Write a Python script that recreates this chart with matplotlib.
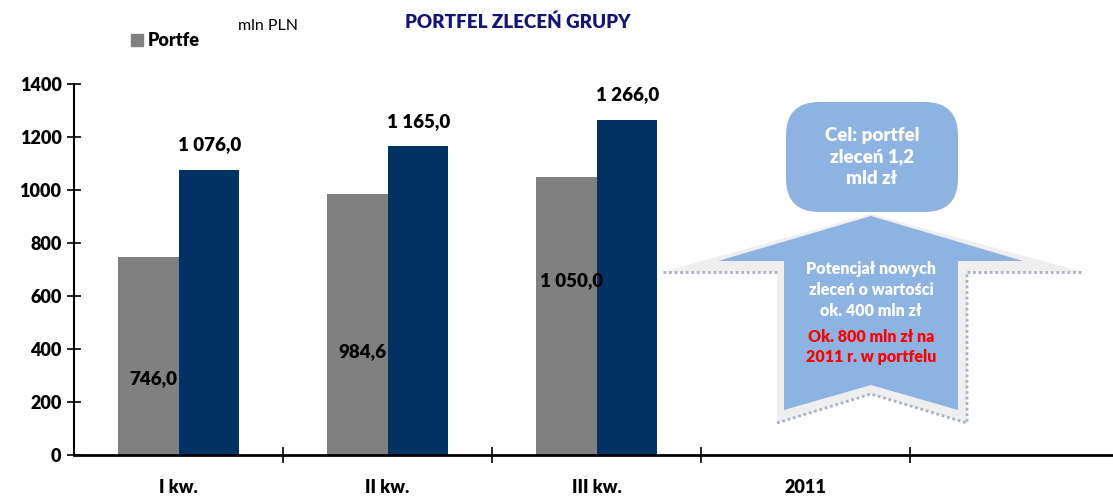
import matplotlib.pyplot as plt
from matplotlib.patches import Polygon, FancyBboxPatch

# dane
kategorie = ["I kw.", "II kw.", "III kw.", "2011", ""]
portfel_grey = [746.0, 984.6, 1050.0]
portfel_navy = [1076.0, 1165.0, 1266.0]
etykiety_grey = ["746,0", "984,6", "1 050,0"]
etykiety_navy = ["1 076,0", "1 165,0", "1 266,0"]
# wysokosc etykiet szarych slupkow (jak w oryginale, nie na szczycie)
etykiety_grey_y = [290, 390, 660]

GREY = "#808080"
NAVY = "#003263"
BLUE = "#8db3e2"
BOLD = 'heavy'

plt.rcParams['font.family'] = ['Lato', 'DejaVu Sans']

W, H = 1113, 497
fig = plt.figure(figsize=(W / 100, H / 100), dpi=100)
ax = fig.add_axes([74 / W, 1 - 455 / H, 1045 / W, 371 / H])

x = range(len(portfel_grey))
bw = 0.29
ax.bar([i - bw / 2 for i in x], portfel_grey, width=bw, color=GREY, zorder=2)
ax.bar([i + bw / 2 for i in x], portfel_navy, width=bw, color=NAVY, zorder=2)

for i in x:
    ax.text(i - 0.12, etykiety_grey_y[i], etykiety_grey[i], ha='center', va='center',
            fontsize=13.5, fontweight=BOLD, color='black')
    ax.text(i + 0.15, portfel_navy[i] + 95, etykiety_navy[i], ha='center', va='center',
            fontsize=13.5, fontweight=BOLD, color='black')

ax.set_xlim(-0.5, len(kategorie) - 0.5)
ax.set_ylim(0, 1400)
ax.set_yticks(range(0, 1401, 200))
ax.set_xticks([i + 0.5 for i in range(len(kategorie) - 1)])
ax.set_xticklabels([])
ax.set_xticks(range(len(kategorie)), minor=True)
ax.set_xticklabels(kategorie, minor=True)
ax.tick_params(axis='x', which='minor', length=0, pad=17, labelsize=13)
ax.tick_params(axis='x', which='major', direction='inout', length=12, width=1.2)
ax.tick_params(axis='y', direction='inout', length=10, width=1.2, labelsize=13, pad=4)
for lab in ax.get_xticklabels(minor=True) + ax.get_yticklabels():
    lab.set_fontweight(BOLD)
ax.spines['top'].set_visible(False)
ax.spines['right'].set_visible(False)
ax.spines['left'].set_linewidth(1.5)
ax.spines['bottom'].set_linewidth(2)

# legenda i tytul
fig.patches.append(plt.Rectangle((131 / W, 1 - 46 / H), 12 / W, 12 / H, color=GREY,
                                 transform=fig.transFigure))
fig.text(148 / W, 1 - 41 / H, "Portfe", fontsize=13, fontweight=BOLD, va='center')
fig.text(238 / W, 1 - 26 / H, "mln PLN", fontsize=11.5, va='center')
fig.text(518 / W, 1 - 22 / H, "PORTFEL ZLECEŃ GRUPY", fontsize=13.5, fontweight=BOLD,
         color='#141478', ha='center', va='center')


def px(pts):
    return [(a / W, 1 - b / H) for a, b in pts]


# strzalka w gore
outer = [(871, 214), (1083, 272), (967, 272), (967, 423), (871, 394),
         (777, 423), (777, 272), (663, 272)]
fig.patches.append(Polygon(px(outer), closed=True, facecolor='#efefef', edgecolor='none',
                           transform=fig.transFigure, zorder=3))
edge = dict(color='#a8b1bf', lw=2.0, ls=(0, (1, 1)), transform=fig.transFigure, zorder=4)
fig.add_artist(plt.Line2D([663 / W, 777 / W], [1 - 272 / H, 1 - 272 / H], **edge))
fig.add_artist(plt.Line2D([967 / W, 1083 / W], [1 - 272 / H, 1 - 272 / H], **edge))
fig.add_artist(plt.Line2D([777 / W, 871 / W, 967 / W, 967 / W],
                          [1 - 423 / H, 1 - 394 / H, 1 - 423 / H, 1 - 272 / H], **edge))
inner = [(871, 216), (1023, 261), (958, 261), (958, 410), (871, 385),
         (784, 410), (784, 261), (718, 261)]
fig.patches.append(Polygon(px(inner), closed=True, facecolor=BLUE, edgecolor='none',
                           transform=fig.transFigure, zorder=5))

box = FancyBboxPatch((786 / W, 1 - 212 / H), 172 / W, 110 / H,
                     boxstyle="round,pad=0,rounding_size=0.03",
                     facecolor=BLUE, edgecolor='none', transform=fig.transFigure,
                     mutation_aspect=W / H, zorder=5)
fig.patches.append(box)

fig.text(872 / W, 1 - 157 / H, "Cel: portfel\nzleceń 1,2\nmld zł", color='white',
         fontsize=13.5, fontweight=BOLD, ha='center', va='center', linespacing=1.35,
         zorder=6)
fig.text(871 / W, 1 - 290 / H, "Potencjał nowych\nzleceń o wartości\nok. 400 mln zł",
         color='white', fontsize=11.5, fontweight=BOLD, ha='center', va='center',
         linespacing=1.38, zorder=6)
fig.text(871 / W, 1 - 347 / H, "Ok. 800 mln zł na\n2011 r. w portfelu", color='#ff0000',
         fontsize=11.5, fontweight=BOLD, ha='center', va='center', linespacing=1.32,
         zorder=6)

fig.savefig("out.png", dpi=100)
